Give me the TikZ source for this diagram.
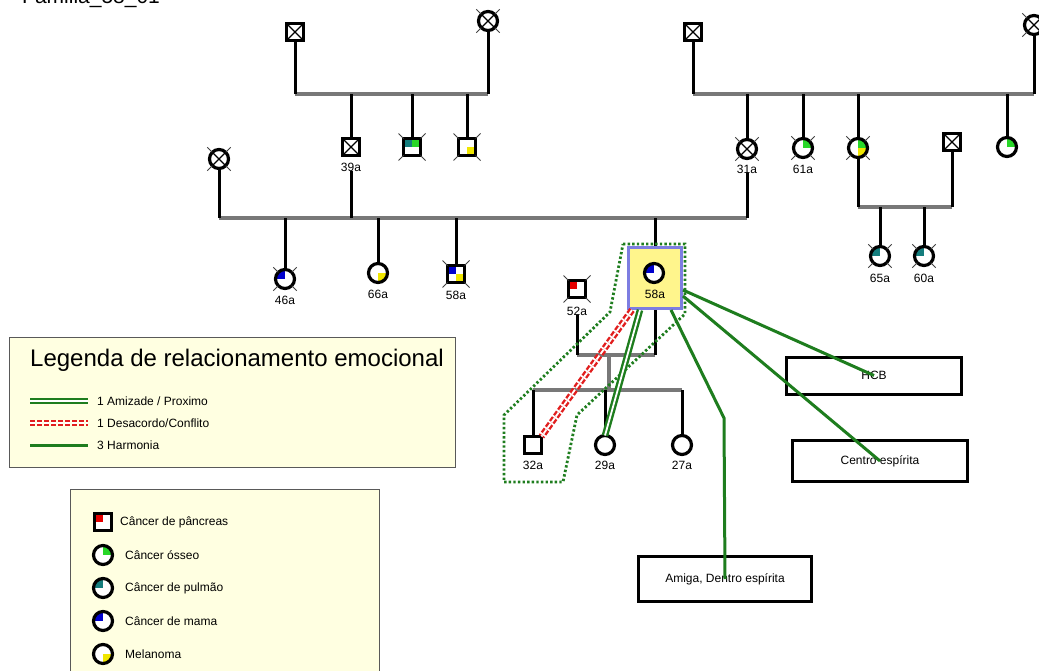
\documentclass[tikz,border=0pt]{standalone}
\usepackage{fontspec}
\setmainfont{Liberation Sans}
\usetikzlibrary{calc}

\definecolor{pedgray}{RGB}{120,120,120}
\definecolor{bonegreen}{RGB}{40,215,40}
\definecolor{lungteal}{RGB}{20,125,125}
\definecolor{breastblue}{RGB}{0,0,205}
\definecolor{melyellow}{RGB}{240,230,0}
\definecolor{pancred}{RGB}{230,0,0}
\definecolor{relgreen}{RGB}{30,125,30}
\definecolor{confred}{RGB}{225,30,30}
\definecolor{legfill}{RGB}{255,255,225}
\definecolor{idxfill}{RGB}{255,245,140}
\definecolor{idxedge}{RGB}{125,125,225}

\tikzset{
  kin/.style={line width=3pt, black},
  sib/.style={line width=3.2pt, pedgray},
  symb/.style={draw=black, line width=3.2pt, fill=white, inner sep=0pt, outer sep=0pt},
  male/.style={symb, rectangle, minimum size=17pt},
  female/.style={symb, circle, minimum size=19pt},
  quads/.style n args={4}{path picture={%
    \fill[#1] (path picture bounding box.center) rectangle (path picture bounding box.north west);
    \fill[#2] (path picture bounding box.center) rectangle (path picture bounding box.north east);
    \fill[#3] (path picture bounding box.center) rectangle (path picture bounding box.south east);
    \fill[#4] (path picture bounding box.center) rectangle (path picture bounding box.south west);}},
  crossed/.style={path picture={%
    \draw[line width=1.2pt] (path picture bounding box.north west) -- (path picture bounding box.south east)
      (path picture bounding box.north east) -- (path picture bounding box.south west);}},
  tick/.style={line width=0.9pt, black!75},
  age/.style={inner sep=0pt},
  rbox/.style={draw=black, line width=3pt, fill=white, inner sep=0pt},
  harmony/.style={relgreen, line width=3pt},
  closeness/.style={relgreen, line width=2.4pt, double=white, double distance=1.8pt},
  conflict/.style={confred, line width=2.4pt, double=white, double distance=1.8pt, dash pattern=on 5pt off 2pt},
  groupline/.style={relgreen, line width=2.8pt, dash pattern=on 2.4pt off 2.2pt},
  legframe/.style={draw=black!65, line width=1.4pt, fill=legfill, inner sep=0pt, anchor=north west},
  legtext/.style={anchor=west, inner sep=0pt},
}

% short diagonal strokes marking a deceased person
\newcommand{\deadmark}[1]{%
  \draw[tick] (#1.north west) -- ++(-5,-5) (#1.north east) -- ++(5,-5)
    (#1.south east) -- ++(5,5) (#1.south west) -- ++(-5,5);}

\begin{document}
\begin{tikzpicture}[x=1pt, y=-1pt, font=\fontsize{12}{14}\selectfont]
\useasboundingbox (0,0) rectangle (1039,671);

\node[anchor=base west, font=\fontsize{21}{24}\selectfont, inner sep=0pt] (title) at (22,3.5) {Familia\_58\_01};

% ---- first generation
\node[male, crossed] (pgf) at (295,32) {};
\node[female, crossed] (pgm) at (488,21) {};
\node[male, crossed] (mgf) at (693,32) {};
\node[female, crossed] (mgm) at (1034,25) {};

% ---- second generation
\node[male, crossed] (fa) at (351,147) {};
\node[age] (fa-age) at (351,167) {39a};
\node[male, quads={lungteal}{bonegreen}{white}{white}] (pu1) at (412,147) {};
\node[male, quads={white}{white}{melyellow}{white}] (pu2) at (467,147) {};
\node[female, crossed] (fw) at (219,159) {};

\node[female, crossed] (mo) at (747,149) {};
\node[age] (mo-age) at (747,169) {31a};
\node[female, quads={white}{bonegreen}{white}{white}] (ma1) at (803,148) {};
\node[age] (ma1-age) at (803,169) {61a};
\node[female, quads={white}{bonegreen}{melyellow}{white}] (ma2) at (858,148) {};
\node[male, crossed] (ma2h) at (952,142) {};
\node[female, quads={white}{bonegreen}{white}{white}] (ma3) at (1007,147) {};
\node[female, quads={lungteal}{white}{white}{white}] (co1) at (880,256) {};
\node[age] (co1-age) at (880,278) {65a};
\node[female, quads={lungteal}{white}{white}{white}] (co2) at (924,256) {};
\node[age] (co2-age) at (924,278) {60a};

% ---- third generation
\node[female, quads={breastblue}{white}{white}{white}] (hs1) at (285,279) {};
\node[age] (hs1-age) at (285,300) {46a};
\node[female, quads={white}{white}{melyellow}{white}] (hs2) at (378,273) {};
\node[age] (hs2-age) at (378,294) {66a};
\node[male, quads={breastblue}{white}{melyellow}{white}] (hs3) at (456,274) {};
\node[age] (hs3-age) at (456,295) {58a};

\node[draw=idxedge, line width=3pt, fill=idxfill, minimum width=53pt, minimum height=61pt, inner sep=0pt] (idx) at (655,278) {};
\node[female, quads={breastblue}{white}{white}{white}] (ix) at (654,273) {};
\node[age] (ix-age) at (655,294) {58a};

\node[male, quads={pancred}{white}{white}{white}] (sp) at (577,289) {};
\node[age] (sp-age) at (577,311) {52a};

% ---- fourth generation
\node[male] (k1) at (533,445) {};
\node[age] (k1-age) at (533,465) {32a};
\node[female] (k2) at (605,445) {};
\node[age] (k2-age) at (605,465) {29a};
\node[female] (k3) at (682,445) {};
\node[age] (k3-age) at (682,465) {27a};

% ---- deceased marks
\foreach \p in {pgm, mgm, fw, mo, pu1, pu2, ma1, ma2, co1, co2, hs1, hs3, sp} {\deadmark{\p}}

% ---- line heights of the sibships
\coordinate (g1) at (0,94);
\coordinate (g2) at (0,218);
\coordinate (g3) at (0,207);
\coordinate (g4) at (0,355);
\coordinate (g5) at (0,390);
\coordinate (drop) at (609,355);

\draw[sib] (pgf |- g1) -- (pgm |- g1);
\draw[sib] (mgf |- g1) -- (mgm |- g1);
\draw[sib] (fw |- g2) -- (mo-age |- g2);
\draw[sib] (ma2 |- g3) -- (ma2h |- g3);
\draw[sib] (sp-age |- g4) -- (idx |- g4);
\draw[sib] (drop) -- (drop |- g5);
\draw[sib] (k1 |- g5) -- (k3 |- g5);

\foreach \p in {pgf, pgm, fa, pu1, pu2, mgf, mgm, mo, ma1, ma2, ma3} {\draw[kin] (\p) -- (\p |- g1);}
\foreach \p in {fw, fa-age, mo-age, hs1, hs2, hs3, idx} {\draw[kin] (\p) -- (\p |- g2);}
\foreach \p in {ma2, ma2h, co1, co2} {\draw[kin] (\p) -- (\p |- g3);}
\foreach \p in {sp-age, idx} {\draw[kin] (\p) -- (\p |- g4);}
\foreach \p in {k1, k2, k3} {\draw[kin] (\p) -- (\p |- g5);}

% ---- social contacts
\node[rbox, minimum width=175pt, minimum height=37pt] (hcb) at (874,375.5) {HCB};
\node[rbox, minimum width=175pt, minimum height=41pt] (centro) at (880,461) {Centro espírita};
\node[rbox, minimum width=173pt, minimum height=45pt] (amiga) at (725,579) {Amiga, Dentro espírita};

% ---- household group
\draw[groupline] (623,244) -- (685,244) -- (685,314) -- (577,415) -- (563,482) -- (504,482) -- (504,415) -- (610,312) -- cycle;

% ---- emotional relationships
\draw[conflict] ([xshift=5pt]idx.south west) -- (k1.north east);
\draw[closeness] ([xshift=13pt]idx.south west) -- (k2.north);
\draw[harmony] ([yshift=-12pt]idx.east) -- (hcb.center);
\draw[harmony] ([yshift=-18pt]idx.east) -- (centro.center);
\coordinate (bend) at (724,418);
\draw[harmony] ([xshift=-12pt]idx.south east) -- (bend) -- (amiga.center);

% ---- legend: relationships
\node[legframe, minimum width=446pt, minimum height=130pt] (leg1) at (8.5,336.5) {};
\node[anchor=west, font=\fontsize{24}{27}\selectfont, inner sep=0pt] (leg1-title) at (30,360) {Legenda de relacionamento emocional};
\draw[closeness] (30,401) -- (88,401);
\node[legtext] (leg1-a) at (97,401) {1 Amizade / Proximo};
\draw[conflict] (30,423) -- (88,423);
\node[legtext] (leg1-b) at (97,423) {1 Desacordo/Conflito};
\draw[harmony] (30,445) -- (88,445);
\node[legtext] (leg1-c) at (97,445) {3 Harmonia};

% ---- legend: conditions
\node[legframe, minimum width=309pt, minimum height=200pt] (leg2) at (70,489) {};
\node[male, quads={pancred}{white}{white}{white}] (lk1) at (103,522) {};
\node[legtext] (lt1) at (120,522) {Câncer de pâncreas};
\node[female, quads={white}{bonegreen}{white}{white}] (lk2) at (103,555) {};
\node[legtext] (lt2) at (125,555) {Câncer ósseo};
\node[female, quads={lungteal}{white}{white}{white}] (lk3) at (103,588) {};
\node[legtext] (lt3) at (125,588) {Câncer de pulmão};
\node[female, quads={breastblue}{white}{white}{white}] (lk4) at (103,621) {};
\node[legtext] (lt4) at (125,621) {Câncer de mama};
\node[female, quads={white}{white}{melyellow}{white}] (lk5) at (103,654) {};
\node[legtext] (lt5) at (125,654) {Melanoma};
\end{tikzpicture}
\end{document}
